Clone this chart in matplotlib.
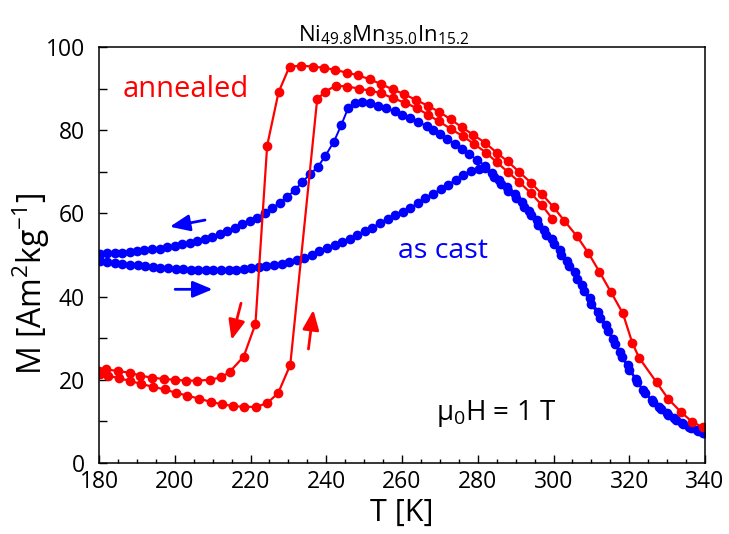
import matplotlib
matplotlib.use("Agg")
import matplotlib.pyplot as plt
from matplotlib.ticker import MultipleLocator

plt.rcParams['font.family'] = ['Open Sans', 'DejaVu Sans']
plt.rcParams['mathtext.fontset'] = 'custom'
plt.rcParams['mathtext.rm'] = 'Open Sans'
plt.rcParams['mathtext.it'] = 'Open Sans'

# ---------------- data ----------------
# annealed, cooling branch
ann_cool_T = [180.0, 181.9, 185.0, 188.1, 190.9, 194.1, 197.1, 200.1, 203.0, 206.0, 209.2, 212.3,
              214.5, 218.2, 221.3, 224.4, 227.4, 230.3, 233.4, 236.5, 239.4, 242.4, 245.5, 248.5,
              251.5, 254.5, 257.5, 260.5, 263.6, 266.8, 269.8, 272.9, 275.8, 278.8, 281.9, 285.0,
              287.9, 290.9, 294.0, 297.0, 300.0, 302.9, 306.1, 309.2, 312.1, 315.1, 318.3, 320.8,
              322.6, 327.2, 330.3, 333.6, 336.6, 339.4]
ann_cool_M = [22.1, 22.5, 22.1, 21.7, 21.0, 20.5, 20.2, 20.0, 19.8, 19.8, 20.0, 20.6,
              21.9, 25.6, 33.4, 76.3, 89.1, 95.3, 95.5, 95.3, 95.0, 94.5, 93.8, 93.2,
              92.2, 91.1, 89.8, 88.7, 87.3, 85.9, 84.4, 82.6, 80.7, 78.9, 77.0, 74.6,
              72.5, 70.0, 67.4, 64.6, 61.5, 58.2, 54.6, 50.5, 46.0, 41.2, 36.0, 28.9,
              25.3, 19.4, 15.4, 12.3, 9.9, 8.6]

# annealed, heating branch
ann_heat_T = [180.2, 182.4, 185.2, 188.3, 191.2, 194.3, 197.3, 200.2, 203.3, 206.3, 209.5, 212.5,
              215.4, 218.3, 221.5, 224.4, 227.3, 230.5, 237.6, 239.7, 242.6, 245.6, 248.6, 251.6,
              254.5, 257.6, 260.8, 263.9, 266.9, 269.8, 272.9, 276.0, 279.0, 282.2, 285.0, 287.9,
              290.9, 294.1, 297.0, 299.7]
ann_heat_M = [21.4, 21.0, 20.4, 19.7, 19.0, 18.3, 17.7, 16.9, 16.2, 15.5, 14.7, 14.1,
              13.7, 13.5, 13.5, 14.4, 16.8, 23.6, 87.4, 89.3, 90.7, 90.5, 90.0, 89.5,
              88.9, 87.7, 86.6, 85.3, 83.7, 82.1, 80.3, 78.6, 76.7, 74.6, 72.3, 70.0,
              67.6, 64.8, 61.9, 58.7]

# as cast, cooling branch
cast_cool_T = [180.2, 182.1, 184.1, 186.1, 188.1, 190.0, 192.0, 194.0, 196.0, 198.0, 200.0, 201.9,
               203.9, 205.9, 207.9, 209.8, 211.9, 213.9, 215.8, 217.8, 219.9, 221.8, 223.7, 225.7,
               227.7, 229.7, 231.7, 233.7, 235.8, 237.8, 239.8, 242.0, 244.0, 245.8, 247.5, 249.5,
               251.5, 253.7, 255.9, 258.1, 260.0, 262.1, 264.3, 266.5, 268.3, 270.0, 272.0, 274.0,
               275.8, 277.8, 279.9, 281.9, 284.2, 286.1, 288.0, 290.2, 292.2, 294.0, 296.0, 298.0,
               300.1, 302.1, 304.0, 306.1, 308.0, 310.0, 312.2, 314.3, 316.2, 318.0, 320.0, 322.1,
               324.1, 326.3, 328.3, 330.3, 332.3, 334.2, 336.3, 338.2, 339.8]
cast_cool_M = [50.3, 50.4, 50.6, 50.6, 50.8, 51.0, 51.1, 51.4, 51.5, 51.9, 52.2, 52.6,
               53.0, 53.4, 53.8, 54.4, 55.0, 55.8, 56.4, 57.4, 58.2, 59.0, 60.0, 61.2,
               62.6, 64.0, 65.6, 67.6, 69.5, 71.2, 73.9, 77.2, 81.3, 85.4, 86.5, 86.7,
               86.5, 85.9, 85.3, 84.5, 83.7, 83.0, 82.0, 81.0, 80.0, 79.1, 77.8, 76.6,
               75.5, 74.2, 72.8, 71.5, 68.8, 67.1, 65.5, 63.6, 61.6, 59.6, 57.3, 54.9,
               52.6, 50.0, 47.3, 44.3, 41.3, 38.2, 34.9, 31.7, 28.6, 25.5, 22.4, 19.4,
               16.8, 14.7, 13.1, 11.6, 10.4, 9.4, 8.5, 7.7, 7.1]

# as cast, heating branch
cast_heat_T = [180.2, 182.2, 184.2, 186.2, 188.2, 190.2, 192.2, 194.2, 196.2, 198.2, 200.2, 202.2,
               204.2, 206.2, 208.2, 210.2, 212.2, 214.2, 216.2, 218.2, 220.2, 222.2, 224.2, 226.2,
               228.2, 230.2, 232.2, 234.2, 236.2, 238.2, 240.2, 242.2, 244.2, 246.2, 248.2, 250.2,
               252.2, 254.2, 256.2, 258.2, 260.2, 262.2, 264.2, 266.2, 268.2, 270.2, 272.2, 274.2,
               276.2, 278.2, 280.2, 282.0, 283.8, 285.7, 287.6, 289.8, 291.8, 293.6, 295.6, 297.6,
               299.7, 301.7, 303.6, 305.7, 307.6, 309.6, 311.8, 313.9, 315.8, 317.6, 319.6, 321.7,
               323.7, 325.9, 327.9, 329.9, 331.9, 333.8, 335.9, 337.8, 339.4]
cast_heat_M = [48.5, 48.3, 48.1, 47.9, 47.7, 47.5, 47.3, 47.1, 46.9, 46.8, 46.7, 46.6,
               46.5, 46.4, 46.3, 46.3, 46.3, 46.4, 46.5, 46.6, 46.8, 47.0, 47.3, 47.6,
               47.9, 48.3, 48.7, 49.3, 50.0, 50.9, 51.7, 52.5, 53.2, 53.9, 54.7, 55.7,
               56.6, 57.7, 58.6, 59.6, 60.4, 61.3, 62.4, 63.6, 64.7, 65.8, 66.9, 68.1,
               69.2, 70.1, 70.6, 71.0, 69.6, 68.0, 66.4, 64.7, 62.7, 60.6, 58.4, 56.0,
               53.8, 51.2, 48.6, 45.9, 42.8, 39.6, 36.3, 33.1, 29.8, 26.7, 23.5, 20.3,
               17.5, 15.2, 13.5, 11.9, 10.7, 9.7, 8.7, 7.9, 7.1]

x_ticks = [180, 200, 220, 240, 260, 280, 300, 320, 340]
y_ticks = [0, 20, 40, 60, 80, 100]

RED = '#ff0000'
BLUE = '#0000ff'

fig = plt.figure(figsize=(7.29, 5.34), dpi=100)
ax = fig.add_axes([99/729, 1-463/534, 606/729, 416/534])

ms = 7.0
ax.plot(cast_cool_T, cast_cool_M, '-o', color=BLUE, lw=1.4, ms=ms, mew=0)
ax.plot(cast_heat_T, cast_heat_M, '-o', color=BLUE, lw=1.4, ms=ms, mew=0)
ax.plot(ann_cool_T, ann_cool_M, '-o', color=RED, lw=1.6, ms=ms, mew=0)
ax.plot(ann_heat_T, ann_heat_M, '-o', color=RED, lw=1.6, ms=ms, mew=0)

ax.set_xlim(180, 340)
ax.set_ylim(0, 100)
ax.set_xticks(x_ticks)
ax.set_yticks(y_ticks)
ax.xaxis.set_minor_locator(MultipleLocator(5))
ax.yaxis.set_minor_locator(MultipleLocator(10))
ax.tick_params(axis='x', which='major', direction='in', length=5.5, width=1, labelsize=16.5, pad=5, top=False)
ax.tick_params(axis='x', which='minor', direction='in', length=3, width=1, top=False)
ax.tick_params(axis='y', which='both', direction='in', length=5.5, width=1, labelsize=16.5, pad=10, right=False)
for s in ax.spines.values():
    s.set_linewidth(1.1)

ax.set_xlabel('T [K]', fontsize=22, labelpad=3)
ax.set_ylabel(r'M [Am$^2$kg$^{-1}$]', fontsize=23)
ax.yaxis.set_label_coords(-0.078, 0.43)

ax.set_title(r'Ni$_{49.8}$Mn$_{35.0}$In$_{15.2}$', fontsize=16, x=0.47, pad=3)

ax.text(186.3, 87.9, 'annealed', color=RED, fontsize=21, ha='left', va='baseline')
ax.text(259.0, 49.2, 'as cast', color=BLUE, fontsize=20.5, ha='left', va='baseline')
ax.text(269.1, 10.3, r'$\mathregular{\mu_0}$H = 1 T', color='black', fontsize=20, ha='left', va='baseline')

def arrow(tail, head, color):
    ax.annotate('', xy=head, xytext=tail,
                arrowprops=dict(arrowstyle='-|>,head_length=0.6,head_width=0.25',
                                mutation_scale=20, lw=2.0, color=color,
                                shrinkA=0, shrinkB=0))

arrow((208.0, 58.4), (198.7, 56.8), BLUE)
arrow((200.1, 41.75), (210.0, 41.75), BLUE)
arrow((217.5, 38.4), (215.0, 29.6), RED)
arrow((235.3, 27.4), (236.6, 36.8), RED)

fig.savefig('out.png', dpi=100)
